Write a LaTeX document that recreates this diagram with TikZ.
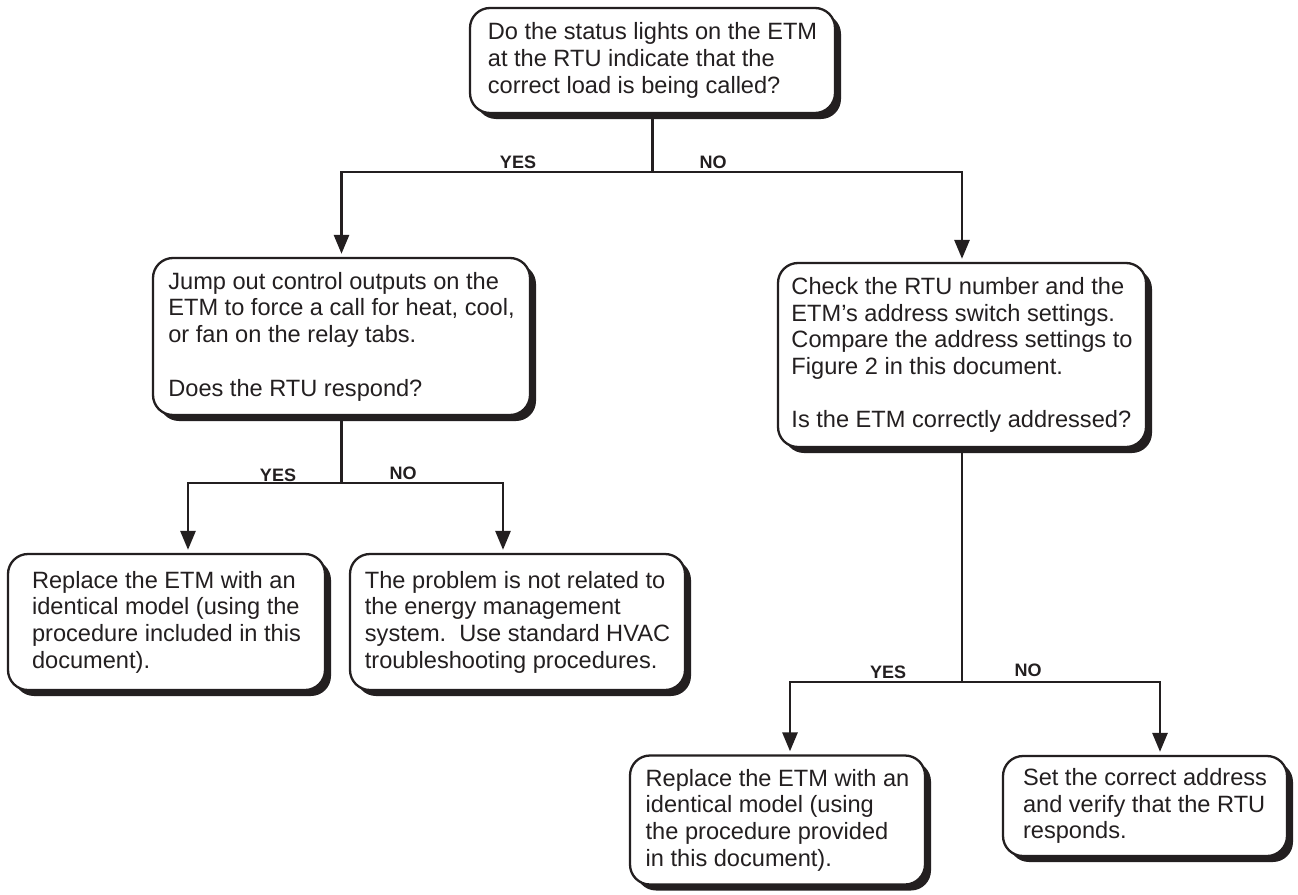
\documentclass[tikz,border=0pt]{standalone}
\usepackage{fontspec}
\setmainfont{Liberation Sans}
\usetikzlibrary{arrows.meta,shadows}
\definecolor{ink}{RGB}{35,31,32}
\begin{document}
\begin{tikzpicture}[x=1pt,y=-1pt,
  box/.style={draw=ink, line width=2.3pt, fill=white, rounded corners=20pt, inner sep=0pt,
    align=left, text=ink, font=\fontsize{23.6}{26.7}\selectfont,
    drop shadow={shadow xshift=6pt, shadow yshift=-6pt, fill=ink, opacity=1}},
  conn/.style={draw=ink, line width=2.8pt},
  arr/.style={conn, -{Triangle[length=19pt,width=15pt]}, shorten >=3pt},
  lbl/.style={font=\fontsize{18}{20}\selectfont\bfseries, text=ink, inner sep=0pt, anchor=base}]
\fill[white] (0,0) rectangle (1298,894);
\useasboundingbox (0,0) rectangle (1298,894);

\node[box, minimum width=365pt, minimum height=105pt] (T) at (652.5,60.5)
  {Do the status lights on the ETM\\at the RTU indicate that the\\correct load is being called?};
\node[box, minimum width=377pt, minimum height=157pt] (L) at (341.5,336.5)
  {Jump out control outputs on the\\ETM to force a call for heat, cool,\\or fan on the relay tabs.\\[26.7pt]Does the RTU respond?};
\node[box, minimum width=368pt, minimum height=184pt] (R) at (962,355)
  {Check the RTU number and the\\ETM’s address switch settings.\\Compare the address settings to\\Figure 2 in this document.\\[26.7pt]Is the ETM correctly addressed?};
\node[box, minimum width=317pt, minimum height=136pt] (L1) at (166.5,622)
  {Replace the ETM with an\\identical model (using the\\procedure included in this\\document).};
\node[box, minimum width=335pt, minimum height=136pt] (L2) at (517.5,622)
  {The problem is not related to\\the energy management\\system.\ \ Use standard HVAC\\troubleshooting procedures.};
\node[box, minimum width=295pt, minimum height=129pt] (R1) at (777.5,820)
  {Replace the ETM with an\\identical model (using\\the procedure provided\\in this document).};
\node[box, minimum width=284pt, minimum height=100pt] (R2) at (1145,806)
  {Set the correct address\\and verify that the RTU\\responds.};

% branch 1
\coordinate (y1) at (0,172);
\coordinate (j1) at (T.south |- y1);
\draw[conn] (T.south) -- (j1);
\draw[arr] (j1) -| (L.north);
\draw[arr] (j1) -| (R.north);
\node[lbl] (yes1) at (518,168) {YES};
\node[lbl] (no1) at (713,168) {NO};

% branch 2
\coordinate (y2) at (0,483);
\coordinate (j2) at (L.south |- y2);
\coordinate (j2l) at (188,483);
\coordinate (j2r) at (503,483);
\draw[conn] (L.south) -- (j2);
\draw[arr] (j2) -- (j2l) -- (j2l |- L1.north);
\draw[arr] (j2) -- (j2r) -- (j2r |- L2.north);
\node[lbl] (yes2) at (278,481) {YES};
\node[lbl] (no2) at (403,479.5) {NO};

% branch 3
\coordinate (y3) at (0,682);
\coordinate (j3) at (R.south |- y3);
\coordinate (j3l) at (790,682);
\coordinate (j3r) at (1160,682);
\draw[conn] (R.south) -- (j3);
\draw[arr] (j3) -- (j3l) -- (j3l |- R1.north);
\draw[arr] (j3) -- (j3r) -- (j3r |- R2.north);
\node[lbl] (yes3) at (888,678) {YES};
\node[lbl] (no3) at (1028,676) {NO};
\end{tikzpicture}
\end{document}
